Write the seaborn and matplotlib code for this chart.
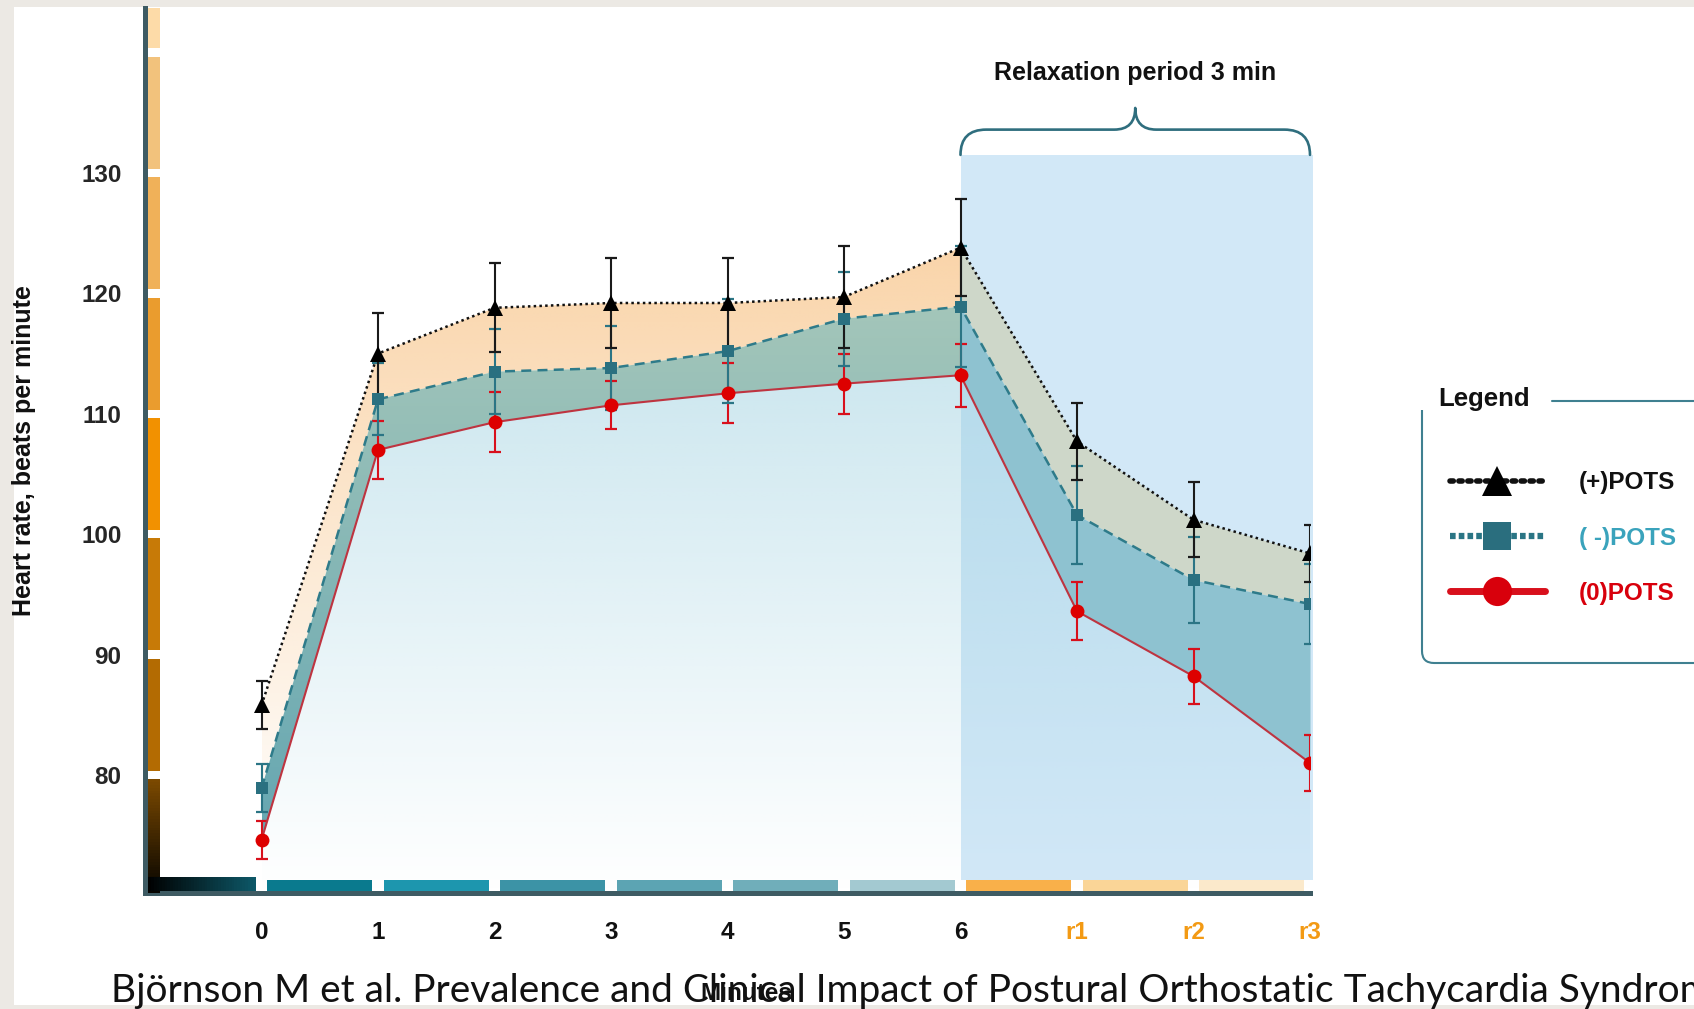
import numpy as np
import pandas as pd
import matplotlib
matplotlib.use('Agg')
import matplotlib.pyplot as plt
import seaborn as sns
from matplotlib.patches import Rectangle, PathPatch
from matplotlib.path import Path
from matplotlib.lines import Line2D
from matplotlib.transforms import Affine2D, blended_transform_factory
from matplotlib.colors import to_rgb

# ---------------- data ----------------
x_labels = ['0', '1', '2', '3', '4', '5', '6', 'r1', 'r2', 'r3']
hr_pos = [85.8, 115.0, 118.8, 119.2, 119.2, 119.7, 123.8, 107.7, 101.2, 98.4]
err_pos = [2.0, 3.4, 3.7, 3.7, 3.7, 4.2, 4.0, 3.2, 3.1, 2.4]
hr_neg = [78.9, 111.2, 113.5, 113.8, 115.2, 117.9, 118.9, 101.6, 96.2, 94.2]
err_neg = [2.0, 3.0, 3.5, 3.5, 4.3, 3.9, 5.0, 4.1, 3.6, 3.3]
hr_zero = [74.6, 107.0, 109.3, 110.7, 111.7, 112.5, 113.2, 93.6, 88.2, 81.0]
err_zero = [1.6, 2.4, 2.5, 2.0, 2.5, 2.5, 2.6, 2.4, 2.3, 2.3]
series_labels = ['(+)POTS', '( -)POTS', '(0)POTS']
y_ticks = [80, 90, 100, 110, 120, 130]
relax_title = 'Relaxation period 3 min'
y_title = 'Heart rate, beats per minute'
x_title = 'Minutes'
footer = 'Björnson M et al. Prevalence and Clinical Impact of Postural Orthostatic Tachycardia Syndrome'

xpos = np.arange(len(x_labels))
df = pd.DataFrame({'x': xpos, 'pos': hr_pos, 'neg': hr_neg, 'zero': hr_zero})

# ---------------- style ----------------
sns.set_theme(style='white')
plt.rcParams['font.family'] = ['Liberation Sans', 'DejaVu Sans']
plt.rcParams['font.weight'] = 'bold'

W, H = 1694, 1009
fig = plt.figure(figsize=(W / 100, H / 100), dpi=100, facecolor='#ECE9E4')
fig.patches.append(Rectangle((14 / W, 1 - 1005 / H), (W - 14) / W, (1005 - 7) / H,
                             transform=fig.transFigure, facecolor='white',
                             edgecolor='none', zorder=-5))
PX = Affine2D().scale(1 / W, -1 / H).translate(0, 1) + fig.transFigure

ax = fig.add_axes([145 / W, 1 - 893 / H, (1310 - 145) / W, (893 - 8) / H])
ax.set_facecolor('white')
YMIN, YMAX = 70.2, 143.7

# relaxation background
ax.add_patch(Rectangle((6, 71.3), 3.03, 131.5 - 71.3, facecolor='#D2E8F7',
                       edgecolor='none', zorder=1, clip_on=False))


def vgrad(poly, x0, x1, y0, y1, c0, c1, a0, a1, zorder):
    n = 256
    t = np.linspace(0, 1, n)[:, None]
    c0, c1 = np.array(c0) / 255, np.array(c1) / 255
    arr = np.zeros((n, 2, 4))
    arr[..., :3] = (c0 + (c1 - c0) * t[..., None])
    arr[..., 3] = np.clip((a0 + (a1 - a0) * t) * np.ones((n, 2)), 0, 1)
    img = ax.imshow(arr, extent=[x0, x1, y0, y1], origin='lower', aspect='auto',
                    zorder=zorder, interpolation='bilinear')
    img.set_clip_path(poly.get_paths()[0], transform=ax.transData)


# lower gradient under the (0)POTS curve
poly = ax.fill_between(df['x'], YMIN, df['zero'], color='none', zorder=1.5)
vgrad(poly, 0, 9, YMIN, 114.5, (150, 205, 222), (150, 205, 222), 0.0, 0.48, 1.6)

# band fills
w = df['x'] <= 6
r = df['x'] >= 6
p_or = ax.fill_between(df['x'][w], df['neg'][w], df['pos'][w], color='none', lw=0, zorder=2)
vgrad(p_or, 0, 6, 72, 126, (246, 180, 104), (246, 180, 104), 0.0, 0.59, 2)
p_te = ax.fill_between(df['x'][w], df['zero'][w], df['neg'][w], color='none', lw=0, zorder=2)
vgrad(p_te, 0, 6, 72, 122, (98, 165, 177), (168, 200, 186), 1.0, 1.0, 2)
ax.fill_between(df['x'][r], df['neg'][r], df['pos'][r], color='#CED7C9', lw=0, zorder=2)
ax.fill_between(df['x'][r], df['zero'][r], df['neg'][r], color='#8EC2D0', lw=0, zorder=2)

# error bars
ax.errorbar(xpos, hr_pos, yerr=err_pos, fmt='none', ecolor='#1A1A1A', elinewidth=1.5,
            capsize=4.5, capthick=1.6, zorder=3.5)
ax.errorbar(xpos, hr_neg, yerr=err_neg, fmt='none', ecolor='#2B7585', elinewidth=1.5,
            capsize=4.5, capthick=1.6, zorder=3.4)
ax.errorbar(xpos, hr_zero, yerr=err_zero, fmt='none', ecolor='#D8101C', elinewidth=1.5,
            capsize=4.5, capthick=1.6, zorder=3.3)

# lines with markers
sns.lineplot(data=df, x='x', y='zero', ax=ax, color='#BE3440', lw=1.5, linestyle='-',
             marker='o', markersize=10, markerfacecolor='#DD0000', markeredgewidth=0,
             zorder=4)
sns.lineplot(data=df, x='x', y='neg', ax=ax, color='#2E7B8A', lw=1.8,
             linestyle=(0, (4, 2.5)), marker='s', markersize=8.5,
             markerfacecolor='#2A7080', markeredgewidth=0, zorder=4.1)
sns.lineplot(data=df, x='x', y='pos', ax=ax, color='#111111', lw=1.8,
             linestyle=(0, (1, 1.3)), marker='^', markersize=12,
             markerfacecolor='black', markeredgewidth=0, zorder=4.2)

ax.set_xlim(-1, 9)
ax.set_ylim(YMIN, YMAX)

# decorative colour bars along the axes
bx = blended_transform_factory(ax.transAxes, ax.transData)   # x axes, y data
by = blended_transform_factory(ax.transData, ax.transAxes)   # x data, y axes


def grad_rects(n, c0, c1, place):
    c0, c1 = np.array(to_rgb(c0)), np.array(to_rgb(c1))
    for i in range(n):
        t = (i + 0.5) / n
        place(i, n, tuple(c0 + (c1 - c0) * t))


y_edges = [YMIN, 80, 90, 100, 110, 120, 130, 140, YMAX]
y_cols = [None, '#B36B02', '#C77A07', '#F29100', '#EA9C2E', '#F0B159', '#F2C27C', '#FDDBA8']
g = 0.35
x0b, x1b = 0.0025, 0.0129
for i in range(len(y_edges) - 1):
    lo = y_edges[i] + (g if i > 0 else 0)
    hi = y_edges[i + 1] - (g if i < len(y_edges) - 2 else 0)
    if y_cols[i] is None:
        def place(k, n, c, lo=lo, hi=hi):
            h = (hi - lo) / n
            ax.add_patch(Rectangle((x0b, lo + k * h), x1b - x0b, h * 1.05, transform=bx,
                                   facecolor=c, edgecolor='none', zorder=2.6, clip_on=False))
        grad_rects(40, '#050300', '#7C4A00', place)
    else:
        ax.add_patch(Rectangle((x0b, lo), x1b - x0b, hi - lo, transform=bx,
                               facecolor=y_cols[i], edgecolor='none', zorder=2.6,
                               clip_on=False))

x_edges = list(range(-1, 10))
x_cols = [None, '#0A7A8E', '#1D96AE', '#3C93A6', '#5CA4B3', '#70AEBA', '#A3C9D1',
          '#F9B04A', '#FAD597', '#FBE9CB']
gx = 0.05
y0b, y1b = 0.0025, 0.0147
for i in range(len(x_edges) - 1):
    lo = x_edges[i] + (gx if i > 0 else 0.03)
    hi = x_edges[i + 1] - gx
    if x_cols[i] is None:
        def place(k, n, c, lo=lo, hi=hi):
            wdt = (hi - lo) / n
            ax.add_patch(Rectangle((lo + k * wdt, y0b), wdt * 1.05, y1b - y0b + 0.003,
                                   transform=by, facecolor=c, edgecolor='none',
                                   zorder=2.7, clip_on=False))
        grad_rects(40, '#000000', '#0D5868', place)
    else:
        ax.add_patch(Rectangle((lo, y0b), hi - lo, y1b - y0b, transform=by,
                               facecolor=x_cols[i], edgecolor='none', zorder=2.6,
                               clip_on=False))

# spines
for s in ['top', 'right']:
    ax.spines[s].set_visible(False)
for s in ['left', 'bottom']:
    ax.spines[s].set_color('#3E5B63')
    ax.spines[s].set_linewidth(3.6)
    ax.spines[s].set_zorder(2.5)

# ticks
ax.set_xticks(xpos)
ax.set_xticklabels(x_labels)
ax.set_yticks(y_ticks)
ax.set_yticklabels([str(v) for v in y_ticks])
ax.tick_params(axis='both', length=0, labelsize=17.5)
ax.tick_params(axis='x', pad=20)
ax.tick_params(axis='y', pad=17)
for lab in ax.get_xticklabels() + ax.get_yticklabels():
    lab.set_fontweight('bold')
for lab, txt in zip(ax.get_xticklabels(), x_labels):
    lab.set_color('#F39A14' if txt.startswith('r') else '#111111')

ax.set_xlabel(x_title, fontsize=17.5, fontweight='bold', color='#111111')
ax.xaxis.label.set_va('baseline')
ax.xaxis.set_label_coords((746 - 145) / 1165, (893 - 1000) / 885)
ax.set_ylabel(y_title, fontsize=18, fontweight='bold', color='#111111')
ax.yaxis.label.set_va('center')
ax.yaxis.set_label_coords((24 - 145) / 1165, 0.5)

# relaxation brace and title
bc = '#2F6E7E'
verts = [(6.0, 131.5), (6.0, 133.6), (6.22, 133.6), (7.32, 133.6), (7.5, 133.6),
         (7.5, 135.4), (7.5, 133.6), (7.68, 133.6), (8.78, 133.6), (9.0, 133.6),
         (9.0, 131.5)]
codes = [Path.MOVETO, Path.CURVE3, Path.CURVE3, Path.LINETO, Path.CURVE3, Path.CURVE3,
         Path.CURVE3, Path.CURVE3, Path.LINETO, Path.CURVE3, Path.CURVE3]
ax.add_patch(PathPatch(Path(verts, codes), facecolor='none', edgecolor=bc, lw=1.9,
                       zorder=5, clip_on=False, capstyle='round', joinstyle='round'))
ax.text(7.5, 138.3, relax_title, ha='center', va='center', fontsize=18,
        fontweight='bold', color='#111111')

# legend
handles = [
    Line2D([], [], color='#111111', lw=4, linestyle=(0, (0.6, 1.0)),
           dash_capstyle='round', marker='^', markersize=21, markerfacecolor='black',
           markeredgewidth=0),
    Line2D([], [], color='#2A7585', lw=4.5, linestyle=(0, (0.9, 0.5)),
           dash_capstyle='butt', marker='s', markersize=20, markerfacecolor='#2A6E7E',
           markeredgewidth=0),
    Line2D([], [], color='#D8101C', lw=5, linestyle='-', marker='o', markersize=21,
           markerfacecolor='#D8000C', markeredgewidth=0),
]
leg = fig.legend(handles, series_labels, loc='center left',
                 bbox_to_anchor=(1450 / W, 1 - 538 / H), frameon=False,
                 prop={'family': 'Liberation Sans', 'weight': 'bold', 'size': 17.5},
                 handlelength=3.9, handletextpad=1.4, labelspacing=1.32,
                 borderpad=0, borderaxespad=0, numpoints=1)
for t, c in zip(leg.get_texts(), ['#111111', '#3AA3BC', '#D8000C']):
    t.set_color(c)

lc = '#3F8090'
fpath = Path([(1422, 410), (1422, 651), (1422, 663), (1434, 663), (1700, 663)],
             [Path.MOVETO, Path.LINETO, Path.CURVE3, Path.CURVE3, Path.LINETO])
fig.patches.append(PathPatch(fpath, facecolor='none', edgecolor=lc, lw=1.5,
                             transform=PX))
fig.lines.append(Line2D([1552, 1700], [401, 401], color=lc, lw=1.5, transform=PX))
fig.text(1438 / W, 1 - 399 / H, 'Legend', ha='left', va='center', fontsize=18.5,
         fontweight='bold', color='#111111')

# footer citation
fig.text(111 / W, 1 - 1002 / H, footer, ha='left', va='baseline', fontsize=28,
         family='Lato', fontweight='normal', color='#111111')

fig.savefig('out.png', dpi=100, facecolor=fig.get_facecolor())
